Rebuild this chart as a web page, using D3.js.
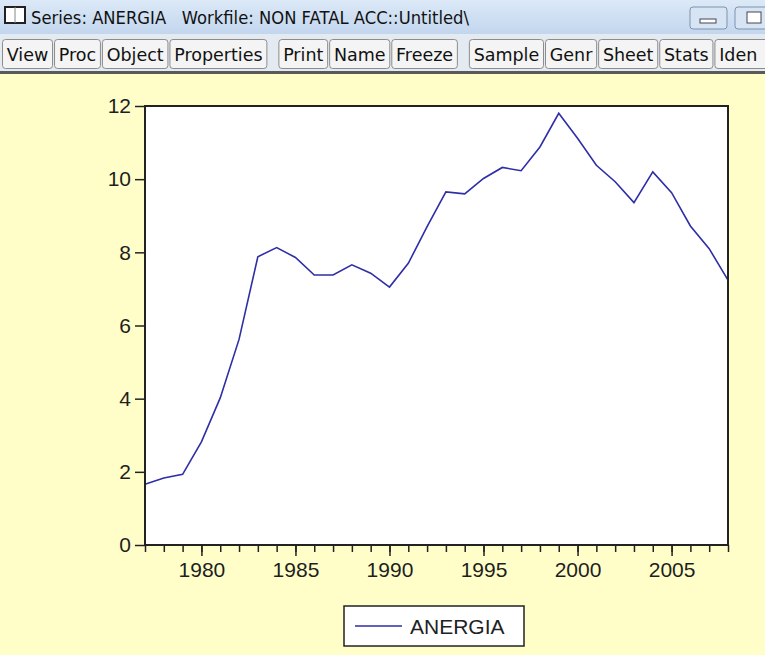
<!doctype html>
<html>
<head>
<meta charset="UTF-8" />
<title>Series: ANERGIA</title>
<script src="https://d3js.org/d3.v7.min.js"></script>
<style type="text/css">
body {
	margin: 0;
	background: #fffec9;
}

svg {
	display: block;
}

.axis text {
	font: 21px "Liberation Sans", Arial, sans-serif;
	fill: #1e1e1e;
}

.axis line {
	stroke: #222;
	stroke-width: 1.5px;
}

.axis path {
	display: none;
}

.line {
	fill: none;
	stroke: #2e2ea6;
	stroke-width: 1.6px;
}

.chrome text {
	font-family: "DejaVu Sans", sans-serif;
	fill: #111;
	white-space: pre;
}
</style>
</head>
<body>
<script>
	// ANERGIA, annual series
	var years = [1977, 1978, 1979, 1980, 1981, 1982, 1983, 1984, 1985, 1986,
		1987, 1988, 1989, 1990, 1991, 1992, 1993, 1994, 1995, 1996,
		1997, 1998, 1999, 2000, 2001, 2002, 2003, 2004, 2005, 2006,
		2007, 2008];
	var anergia = [1.66, 1.83, 1.93, 2.82, 4.02, 5.62, 7.88, 8.13, 7.86, 7.38,
		7.38, 7.66, 7.43, 7.05, 7.70, 8.70, 9.65, 9.60, 10.02, 10.32,
		10.23, 10.88, 11.80, 11.12, 10.38, 9.93, 9.36, 10.20, 9.63, 8.72,
		8.10, 7.24];
	var yTicks = [0, 2, 4, 6, 8, 10, 12];
	var xTicks = [1980, 1985, 1990, 1995, 2000, 2005];
	var seriesName = "ANERGIA";

	var W = 765, H = 655;
	var plot = {left: 145, top: 106, right: 728, bottom: 545};

	var svg = d3.select("body").append("svg")
		.attr("width", W)
		.attr("height", H);

	// ---- window chrome ----
	var chrome = svg.append("g").attr("class", "chrome");
	var grad = svg.append("defs").append("linearGradient")
		.attr("id", "tb").attr("x1", 0).attr("y1", 0).attr("x2", 0).attr("y2", 1);
	grad.append("stop").attr("offset", "0%").attr("stop-color", "#dce9f7");
	grad.append("stop").attr("offset", "100%").attr("stop-color", "#c2d6ee");

	chrome.append("rect").attr("x", 0).attr("y", 0).attr("width", W).attr("height", 34).attr("fill", "url(#tb)");
	chrome.append("rect").attr("x", 0).attr("y", 34).attr("width", W).attr("height", 38).attr("fill", "#e4eaf2");
	chrome.append("rect").attr("x", 0).attr("y", 71).attr("width", W).attr("height", 3).attr("fill", "#5a5a5a");

	// icon
	chrome.append("rect").attr("x", 5).attr("y", 7).attr("width", 20).attr("height", 16)
		.attr("fill", "#fff").attr("stroke", "#222").attr("stroke-width", 2);
	chrome.append("line").attr("x1", 15).attr("x2", 15).attr("y1", 7).attr("y2", 23)
		.attr("stroke", "#888").attr("stroke-width", 1);

	chrome.append("text")
		.attr("x", 31).attr("y", 24)
		.attr("textLength", 438)
		.attr("lengthAdjust", "spacingAndGlyphs")
		.style("font-size", "17px")
		.text("Series: ANERGIA   Workfile: NON FATAL ACC::Untitled\\");

	// min / max buttons
	chrome.append("rect").attr("x", 690).attr("y", 7).attr("width", 37).attr("height", 22).attr("rx", 3)
		.attr("fill", "#d6e4f4").attr("stroke", "#7f93ad");
	chrome.append("rect").attr("x", 700).attr("y", 19).attr("width", 16).attr("height", 4)
		.attr("fill", "#fff").attr("stroke", "#445");
	chrome.append("rect").attr("x", 735).attr("y", 7).attr("width", 40).attr("height", 22).attr("rx", 3)
		.attr("fill", "#d6e4f4").attr("stroke", "#7f93ad");
	chrome.append("rect").attr("x", 747).attr("y", 12).attr("width", 14).attr("height", 11)
		.attr("fill", "#fff").attr("stroke", "#445");

	// toolbar; the last button runs off the window edge as in the screenshot
	var groups = [["View", "Proc", "Object", "Properties"], ["Print", "Name", "Freeze"],
		["Sample", "Genr", "Sheet", "Stats", "Iden"]];
	var bx = 2;
	groups.forEach(function(g, gi) {
		g.forEach(function(label) {
			var t = chrome.append("text")
				.attr("y", 61)
				.style("font-size", "17.5px")
				.text(label);
			var w = t.node().getComputedTextLength() + 8.5;
			if (label == "Iden") w = 70;
			chrome.insert("rect", "text")
				.attr("x", bx + 0.5).attr("y", 39.5)
				.attr("width", w).attr("height", 29).attr("rx", 3)
				.attr("fill", "#f4f4f4").attr("stroke", "#8c8c8c");
			t.attr("x", bx + 4.75);
			bx += w + 2;
		});
		bx += 10;
	});

	// ---- chart ----
	var x = d3.scaleLinear()
		.domain([d3.min(years), d3.max(years)])
		.range([plot.left, plot.right]);

	var y = d3.scaleLinear()
		.domain([0, 12])
		.range([plot.bottom, plot.top]);

	svg.append("rect")
		.attr("x", plot.left).attr("y", plot.top)
		.attr("width", plot.right - plot.left).attr("height", plot.bottom - plot.top)
		.attr("fill", "#fff");

	var line = d3.line()
		.x(function(d, i) { return x(years[i]); })
		.y(function(d) { return y(d); });

	svg.append("path")
		.datum(anergia)
		.attr("class", "line")
		.attr("d", line);

	svg.append("rect")
		.attr("x", plot.left).attr("y", plot.top)
		.attr("width", plot.right - plot.left).attr("height", plot.bottom - plot.top)
		.attr("fill", "none").attr("stroke", "#222").attr("stroke-width", 2);

	svg.append("g")
		.attr("class", "y axis")
		.attr("transform", "translate(" + plot.left + ",0)")
		.call(d3.axisLeft(y).tickValues(yTicks).tickSize(10).tickPadding(4).tickFormat(d3.format("d")));

	svg.append("g")
		.attr("class", "x axis minor")
		.attr("transform", "translate(0," + plot.bottom + ")")
		.call(d3.axisBottom(x).tickValues(years).tickSize(7).tickFormat(""));

	svg.append("g")
		.attr("class", "x axis")
		.attr("transform", "translate(0," + plot.bottom + ")")
		.call(d3.axisBottom(x).tickValues(xTicks).tickSize(11).tickPadding(6).tickFormat(d3.format("d")));

	// ---- legend ----
	var legend = svg.append("g").attr("transform", "translate(344,606)");
	legend.append("rect")
		.attr("width", 180).attr("height", 40)
		.attr("fill", "#fff").attr("stroke", "#222").attr("stroke-width", 1.5);
	legend.append("line")
		.attr("class", "line")
		.attr("x1", 11).attr("x2", 58).attr("y1", 20).attr("y2", 20);
	legend.append("text")
		.attr("x", 66).attr("y", 28)
		.style("font", "21px 'Liberation Sans', Arial, sans-serif")
		.style("fill", "#222")
		.text(seriesName);
</script>
</body>
</html>
